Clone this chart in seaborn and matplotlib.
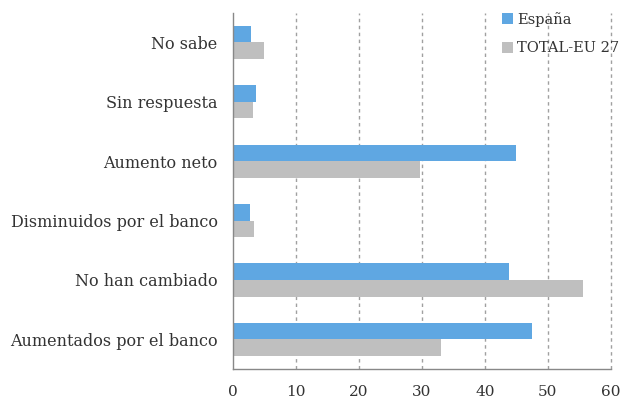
import matplotlib
matplotlib.use("Agg")
import matplotlib.pyplot as plt
import numpy as np
import pandas as pd
import seaborn as sns

categories = ["No sabe", "Sin respuesta", "Aumento neto",
              "Disminuidos por el banco", "No han cambiado",
              "Aumentados por el banco"]
espana = [2.8, 3.7, 44.9, 2.7, 43.9, 47.4]
total_eu = [4.9, 3.2, 29.7, 3.4, 55.5, 33.1]
series = ["España", "TOTAL-EU 27"]
colors = ["#5fa7e2", "#bfbfbf"]
xticks = [0, 10, 20, 30, 40, 50, 60]

df = pd.DataFrame({
    "categoria": categories * 2,
    "valor": espana + total_eu,
    "serie": [series[0]] * len(categories) + [series[1]] * len(categories),
})

sns.set_style("white")
plt.rcParams["font.family"] = ["DejaVu Serif"]

fig = plt.figure(figsize=(6.24, 4.03), dpi=100)
ax = fig.add_axes([0.3734, 0.0844, 0.6056, 0.8841])

sns.barplot(data=df, y="categoria", x="valor", hue="serie", order=categories,
            hue_order=series, palette=colors, orient="h", width=0.56,
            saturation=1, linewidth=0, ax=ax, errorbar=None)

ax.set_xlim(0, 60)
ax.set_ylim(len(categories) - 0.5, -0.5)
ax.set_xticks(xticks)
ax.set_xticklabels([str(t) for t in xticks], fontsize=11, color="#333333")
ax.tick_params(axis="x", direction="inout", length=7, width=1, color="#888888", pad=8)
ax.tick_params(axis="y", which="major", length=0, labelsize=11.5, labelcolor="#333333", pad=11)
ax.set_yticks(np.arange(-0.5, len(categories), 1), minor=True)
ax.tick_params(axis="y", which="minor", length=4, width=1, color="#888888", direction="out")

for x in xticks[1:]:
    ax.axvline(x, color="#a0a0a0", linestyle=(0, (2.5, 2.5)), linewidth=1,
               zorder=0, clip_on=False)

for side in ["top", "right"]:
    ax.spines[side].set_visible(False)
for side in ["left", "bottom"]:
    ax.spines[side].set_color("#888888")
    ax.spines[side].set_linewidth(1)

ax.set_xlabel("")
ax.set_ylabel("")
ax.legend(loc="upper left", bbox_to_anchor=(0.68, 1.035), frameon=False,
          fontsize=10.5, handlelength=0.75, handleheight=0.75, handletextpad=0.3,
          labelspacing=1.0, borderpad=0.3, labelcolor="#333333")

fig.savefig("out.png", dpi=100)
plt.close()
